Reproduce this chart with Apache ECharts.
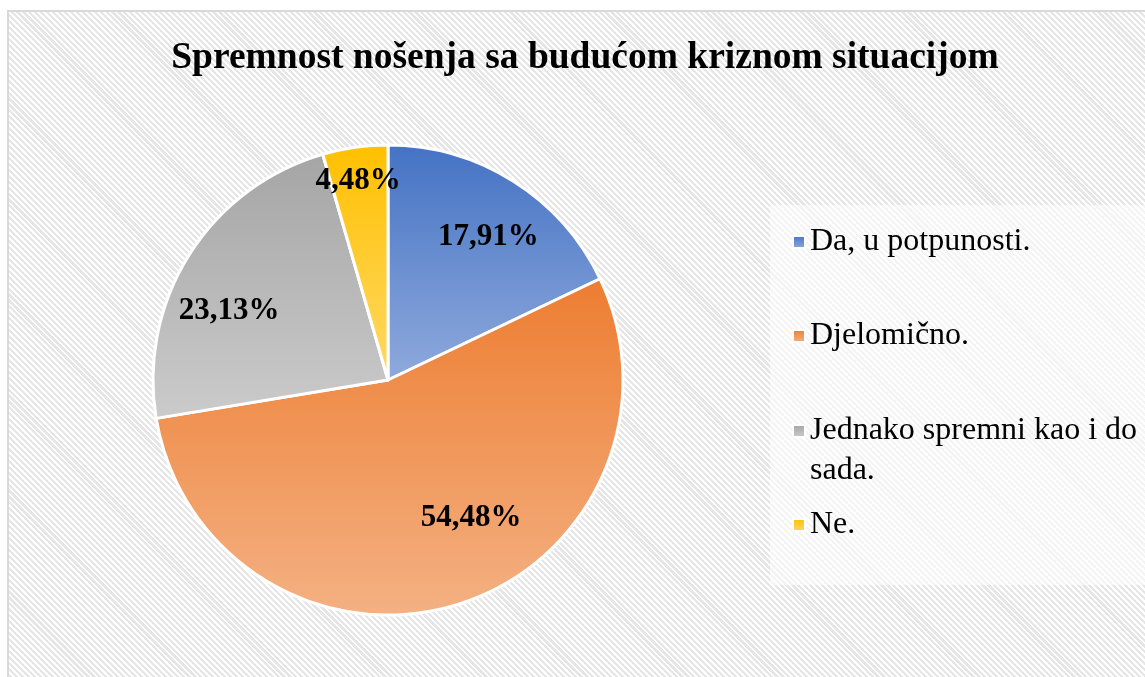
<!DOCTYPE html>
<html>
<head>
<meta charset="utf-8">
<script src="https://cdn.jsdelivr.net/npm/echarts@6/dist/echarts.min.js"></script>
<style>
  html, body { margin: 0; padding: 0; background: #ffffff; }
  #bg {
    position: absolute; left: 7px; top: 10px; width: 1145px; height: 677px;
    box-sizing: border-box; border: 2px solid #d9d9d9;
    background: repeating-linear-gradient(45deg, #ffffff 0px, #ffffff 2px, #e6e6e6 2px, #e6e6e6 4.2px);
  }
  #chart { position: absolute; left: 0; top: 0; width: 1145px; height: 677px; }
</style>
</head>
<body>
<div id="bg"></div>
<div id="chart"></div>
<script>
// Survey answers and their shares (%)
const categories = ['Da, u potpunosti.', 'Djelomično.', 'Jednako spremni kao i do sada.', 'Ne.'];
const shares = [17.91, 54.48, 23.13, 4.48];

// Slice fills: darker at the top, lighter at the bottom
const topColors = ['#4472C4', '#ED7D31', '#A5A5A5', '#FFC000'];
const bottomColors = ['#8FAADC', '#F4B183', '#CBCBCB', '#FFD966'];
// Nudges for the value labels away from the default inner position
const labelOffsets = [[36, -41], [47, 23], [-57, -5], [-13, -80]];

const grad = (i) => new echarts.graphic.LinearGradient(0, 0, 0, 1, [
  { offset: 0, color: topColors[i] },
  { offset: 1, color: bottomColors[i] }
]);

const chart = echarts.init(document.getElementById('chart'), null, { renderer: 'canvas' });

// One legend block per entry; the long entry wraps onto a second line
const legendTops = [217, 311, 366, 500];
const legends = categories.map((name, i) => ({
  data: [{ name: name, icon: 'rect' }],
  orient: 'vertical',
  left: 787,
  top: legendTops[i],
  itemWidth: 12,
  itemHeight: 12,
  itemGap: 8,
  selectedMode: false,
  formatter: (n) => n === categories[2] ? ' \nJednako spremni kao i do\nsada.' : n,
  textStyle: {
    fontFamily: 'Liberation Serif, Times New Roman, serif',
    fontSize: 32,
    color: '#000000',
    lineHeight: 40
  }
}));

const option = {
  animation: false,
  title: {
    text: 'Spremnost nošenja sa budućom kriznom situacijom',
    left: 580,
    top: 34,
    textAlign: 'center',
    textStyle: {
      fontFamily: 'Liberation Serif, Times New Roman, serif',
      fontWeight: 'bold',
      fontSize: 37.5,
      color: '#000000'
    }
  },
  graphic: [{
    type: 'rect',
    z: -1,
    shape: { x: 770, y: 205, width: 380, height: 380 },
    style: { fill: 'rgba(255,255,255,0.55)' }
  }],
  legend: legends,
  series: [{
    type: 'pie',
    center: [388, 380],
    radius: [0, 235],
    startAngle: 90,
    clockwise: true,
    avoidLabelOverlap: false,
    label: {
      show: true,
      position: 'inside',
      formatter: (p) => p.value.toFixed(2).replace('.', ',') + '%',
      fontFamily: 'Liberation Serif, Times New Roman, serif',
      fontWeight: 'bold',
      fontSize: 31,
      color: '#000000'
    },
    labelLine: { show: false },
    emphasis: { disabled: true },
    itemStyle: { borderColor: '#ffffff', borderWidth: 3 },
    data: categories.map((name, i) => ({
      name: name,
      value: shares[i],
      itemStyle: { color: grad(i) },
      label: { offset: labelOffsets[i] }
    }))
  }]
};

chart.setOption(option);
</script>
</body>
</html>
